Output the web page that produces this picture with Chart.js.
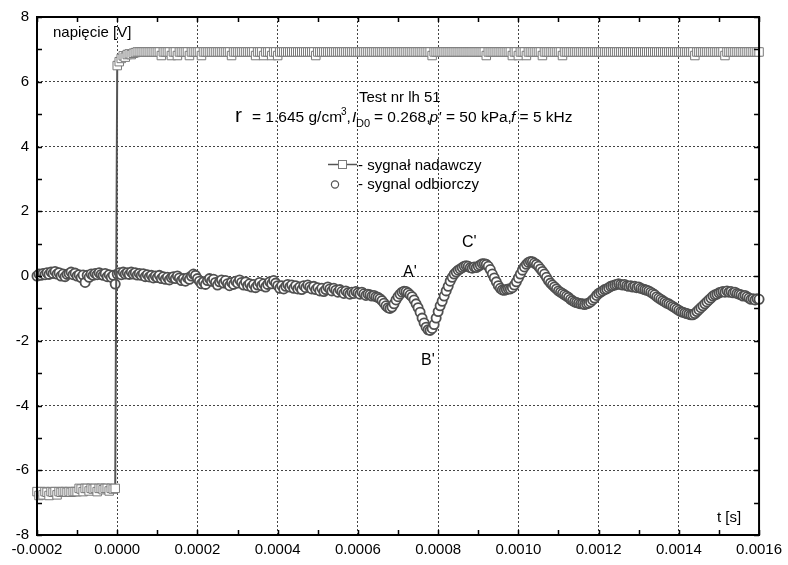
<!DOCTYPE html>
<html lang="pl">
<head>
<meta charset="UTF-8">
<title>Test nr lh 51</title>
<style>
  html, body { margin: 0; padding: 0; background: #fff; }
  #wrap { width: 788px; height: 565px; }
</style>
</head>
<body>
<div id="wrap"><canvas id="chart" width="788" height="565"></canvas></div>
<script src="https://cdn.jsdelivr.net/npm/chart.js"></script>
<script>
// time in microseconds (displayed in seconds)
const timeUs = [
  -200,-195,-190,-185,-180,-175,-170,-165,-160,-155,-150,-145,-140,-135,-130,-125,-120,-115,-110,-105,
  -100,-95,-90,-85,-80,-75,-70,-65,-60,-55,-50,-45,-40,-35,-30,-25,-20,-15,-10,-5,
  0,5,10,15,20,25,30,35,40,45,50,55,60,65,70,75,80,85,90,95,
  100,105,110,115,120,125,130,135,140,145,150,155,160,165,170,175,180,185,190,195,
  200,205,210,215,220,225,230,235,240,245,250,255,260,265,270,275,280,285,290,295,
  300,305,310,315,320,325,330,335,340,345,350,355,360,365,370,375,380,385,390,395,
  400,405,410,415,420,425,430,435,440,445,450,455,460,465,470,475,480,485,490,495,
  500,505,510,515,520,525,530,535,540,545,550,555,560,565,570,575,580,585,590,595,
  600,605,610,615,620,625,630,635,640,645,650,655,660,665,670,675,680,685,690,695,
  700,705,710,715,720,725,730,735,740,745,750,755,760,765,770,775,780,785,790,795,
  800,805,810,815,820,825,830,835,840,845,850,855,860,865,870,875,880,885,890,895,
  900,905,910,915,920,925,930,935,940,945,950,955,960,965,970,975,980,985,990,995,
  1000,1005,1010,1015,1020,1025,1030,1035,1040,1045,1050,1055,1060,1065,1070,1075,1080,1085,1090,1095,
  1100,1105,1110,1115,1120,1125,1130,1135,1140,1145,1150,1155,1160,1165,1170,1175,1180,1185,1190,1195,
  1200,1205,1210,1215,1220,1225,1230,1235,1240,1245,1250,1255,1260,1265,1270,1275,1280,1285,1290,1295,
  1300,1305,1310,1315,1320,1325,1330,1335,1340,1345,1350,1355,1360,1365,1370,1375,1380,1385,1390,1395,
  1400,1405,1410,1415,1420,1425,1430,1435,1440,1445,1450,1455,1460,1465,1470,1475,1480,1485,1490,1495,
  1500,1505,1510,1515,1520,1525,1530,1535,1540,1545,1550,1555,1560,1565,1570,1575,1580,1585,1590,1595,
  1600
];

// sygnał nadawczy [V]
const sentV = [
  -6.66,-6.78,-6.66,-6.76,-6.66,-6.68,-6.78,-6.66,-6.68,-6.66,-6.76,-6.66,-6.68,-6.66,-6.66,-6.68,-6.66,-6.68,-6.66,-6.66,
  -6.66,-6.56,-6.58,-6.66,-6.56,-6.56,-6.64,-6.56,-6.58,-6.56,-6.66,-6.56,-6.56,-6.60,-6.56,-6.56,-6.64,-6.56,-6.58,-6.56,
  6.50,6.62,6.72,6.80,6.76,6.84,6.86,6.84,6.88,6.90,6.92,6.92,6.92,6.92,6.92,6.92,6.92,6.92,6.92,6.92,
  6.92,6.92,6.81,6.92,6.92,6.92,6.92,6.81,6.92,6.92,6.81,6.92,6.92,6.92,6.92,6.92,6.81,6.92,6.92,6.92,
  6.92,6.92,6.81,6.92,6.92,6.92,6.92,6.92,6.92,6.92,6.92,6.92,6.92,6.92,6.92,6.92,6.92,6.81,6.92,6.92,
  6.92,6.92,6.92,6.92,6.92,6.92,6.92,6.92,6.92,6.81,6.92,6.92,6.92,6.81,6.92,6.92,6.92,6.81,6.92,6.92,
  6.81,6.92,6.92,6.92,6.92,6.92,6.92,6.92,6.92,6.92,6.92,6.92,6.92,6.92,6.92,6.92,6.92,6.92,6.92,6.81,
  6.92,6.92,6.92,6.92,6.92,6.92,6.92,6.92,6.92,6.92,6.92,6.92,6.92,6.92,6.92,6.92,6.92,6.92,6.92,6.92,
  6.92,6.92,6.92,6.92,6.92,6.92,6.92,6.92,6.92,6.92,6.92,6.92,6.92,6.92,6.92,6.92,6.92,6.92,6.92,6.92,
  6.92,6.92,6.92,6.92,6.92,6.92,6.92,6.92,6.92,6.92,6.92,6.92,6.92,6.92,6.92,6.92,6.92,6.81,6.92,6.92,
  6.92,6.92,6.92,6.92,6.92,6.92,6.92,6.92,6.92,6.92,6.92,6.92,6.92,6.92,6.92,6.92,6.92,6.92,6.92,6.92,
  6.92,6.92,6.92,6.92,6.81,6.92,6.92,6.92,6.92,6.92,6.92,6.92,6.92,6.92,6.92,6.92,6.92,6.81,6.92,6.92,
  6.81,6.92,6.92,6.92,6.81,6.92,6.92,6.92,6.92,6.92,6.92,6.92,6.81,6.92,6.92,6.92,6.92,6.92,6.92,6.92,
  6.92,6.92,6.81,6.92,6.92,6.92,6.92,6.92,6.92,6.92,6.92,6.92,6.92,6.92,6.92,6.92,6.92,6.92,6.92,6.92,
  6.92,6.92,6.92,6.92,6.92,6.92,6.92,6.92,6.92,6.92,6.92,6.92,6.92,6.92,6.92,6.92,6.92,6.92,6.92,6.92,
  6.92,6.92,6.92,6.92,6.92,6.92,6.92,6.92,6.92,6.92,6.92,6.92,6.92,6.92,6.92,6.92,6.92,6.92,6.92,6.92,
  6.92,6.92,6.92,6.92,6.92,6.92,6.92,6.92,6.81,6.92,6.92,6.92,6.92,6.92,6.92,6.92,6.92,6.92,6.92,6.92,
  6.92,6.92,6.92,6.81,6.92,6.92,6.92,6.92,6.92,6.92,6.92,6.92,6.92,6.92,6.92,6.92,6.92,6.92,6.92,6.92,
  6.92
];

// sygnal odbiorczy [V]
const receivedV = [
  0.00,0.06,0.02,0.08,0.04,0.10,0.05,0.12,0.08,0.14,0.06,0.10,0.00,0.06,-0.02,0.05,0.08,0.12,0.04,0.09,
  0.00,0.04,-0.05,0.03,-0.20,0.02,-0.04,0.06,0.02,0.08,0.04,0.10,0.05,0.02,0.08,-0.02,0.04,-0.04,0.02,-0.25,
  0.06,0.10,0.04,0.12,0.06,0.10,0.05,0.12,0.06,0.10,0.03,0.08,0.02,0.07,-0.02,0.04,-0.03,0.02,-0.06,0.00,
  -0.05,0.02,-0.08,-0.02,-0.10,-0.04,-0.12,-0.05,-0.02,-0.08,0.00,-0.06,-0.14,-0.08,-0.16,-0.06,-0.10,0.00,0.06,0.02,
  -0.08,-0.16,-0.24,-0.18,-0.26,-0.14,-0.08,-0.16,-0.10,-0.20,-0.28,-0.18,-0.12,-0.22,-0.14,-0.24,-0.30,-0.20,-0.26,-0.16,
  -0.22,-0.12,-0.20,-0.28,-0.18,-0.30,-0.24,-0.34,-0.26,-0.36,-0.28,-0.20,-0.30,-0.24,-0.34,-0.26,-0.18,-0.24,-0.14,-0.22,
  -0.30,-0.38,-0.30,-0.40,-0.32,-0.26,-0.34,-0.28,-0.38,-0.30,-0.40,-0.34,-0.42,-0.30,-0.36,-0.28,-0.34,-0.40,-0.32,-0.42,
  -0.36,-0.46,-0.38,-0.48,-0.42,-0.34,-0.40,-0.46,-0.38,-0.44,-0.50,-0.42,-0.48,-0.54,-0.46,-0.52,-0.56,-0.50,-0.54,-0.48,
  -0.52,-0.56,-0.50,-0.55,-0.60,-0.56,-0.58,-0.62,-0.60,-0.64,-0.66,-0.70,-0.76,-0.84,-0.92,-0.98,-1.00,-0.96,-0.86,-0.74,
  -0.64,-0.56,-0.50,-0.47,-0.48,-0.52,-0.58,-0.64,-0.74,-0.86,-0.98,-1.12,-1.30,-1.45,-1.58,-1.66,-1.68,-1.62,-1.50,-1.30,
  -1.10,-0.92,-0.78,-0.62,-0.46,-0.32,-0.16,-0.04,0.06,0.12,0.18,0.22,0.26,0.30,0.32,0.30,0.26,0.24,0.28,0.26,
  0.30,0.34,0.38,0.38,0.36,0.30,0.20,0.06,-0.06,-0.18,-0.30,-0.38,-0.43,-0.44,-0.42,-0.40,-0.40,-0.36,-0.28,-0.18,
  -0.06,0.06,0.18,0.28,0.36,0.42,0.45,0.44,0.40,0.36,0.30,0.22,0.14,0.06,-0.04,-0.14,-0.22,-0.28,-0.34,-0.40,
  -0.46,-0.50,-0.54,-0.58,-0.62,-0.66,-0.72,-0.76,-0.80,-0.82,-0.84,-0.86,-0.86,-0.88,-0.86,-0.84,-0.80,-0.74,-0.68,-0.60,
  -0.54,-0.50,-0.46,-0.42,-0.40,-0.36,-0.32,-0.30,-0.28,-0.26,-0.24,-0.26,-0.28,-0.26,-0.30,-0.32,-0.30,-0.34,-0.32,-0.36,
  -0.34,-0.38,-0.40,-0.42,-0.44,-0.46,-0.50,-0.54,-0.58,-0.64,-0.68,-0.72,-0.76,-0.80,-0.84,-0.86,-0.90,-0.94,-0.98,-1.02,
  -1.06,-1.10,-1.12,-1.14,-1.16,-1.18,-1.20,-1.20,-1.16,-1.10,-1.04,-0.98,-0.92,-0.86,-0.80,-0.74,-0.68,-0.62,-0.58,-0.56,
  -0.52,-0.50,-0.48,-0.50,-0.46,-0.50,-0.48,-0.52,-0.50,-0.54,-0.56,-0.58,-0.62,-0.60,-0.64,-0.68,-0.72,-0.70,-0.74,-0.70,
  -0.72
];

const xTickValues = [-200, 0, 200, 400, 600, 800, 1000, 1200, 1400, 1600];
const xTickLabels = ['-0.0002', '0.0000', '0.0002', '0.0004', '0.0006', '0.0008', '0.0010', '0.0012', '0.0014', '0.0016'];
const yTickValues = [-8, -6, -4, -2, 0, 2, 4, 6, 8];
const yTickLabels = ['-8', '-6', '-4', '-2', '0', '2', '4', '6', '8'];

const FONT = '"Liberation Sans", Arial, sans-serif';

// frame, inward ticks and all the captions
const framePlugin = {
  id: 'frame',
  afterDraw(chart) {
    const { ctx, chartArea: a, scales: { x, y } } = chart;
    ctx.save();
    ctx.strokeStyle = '#000';
    ctx.lineWidth = 2;
    ctx.strokeRect(a.left, a.top, a.right - a.left, a.bottom - a.top);

    ctx.lineWidth = 1.5;
    ctx.beginPath();
    for (let v = x.min; v <= x.max; v += 100) {
      const px = Math.round(x.getPixelForValue(v)) + 0.5;
      ctx.moveTo(px, a.bottom); ctx.lineTo(px, a.bottom - 5);
      ctx.moveTo(px, a.top); ctx.lineTo(px, a.top + 5);
    }
    for (let v = y.min; v <= y.max; v += 1) {
      const py = Math.round(y.getPixelForValue(v)) + 0.5;
      ctx.moveTo(a.left, py); ctx.lineTo(a.left + 5, py);
      ctx.moveTo(a.right, py); ctx.lineTo(a.right - 5, py);
    }
    ctx.stroke();

    ctx.fillStyle = '#000';
    ctx.textBaseline = 'alphabetic';
    ctx.textAlign = 'left';
    // draws a piece of text, returns where it ends
    const txt = (s, px, py, size, style) => {
      ctx.font = (style || '') + ' ' + size + 'px ' + FONT;
      ctx.fillText(s, px, py);
      return px + ctx.measureText(s).width;
    };

    txt('napięcie [V]', 53, 37, 15);
    txt('t [s]', 717, 522, 15);

    txt('Test nr lh 51', 359, 102, 15);
    txt('r', 235, 122, 21);
    let e = txt('= 1.645 g/cm', 252, 122, 15.5);
    e = txt('3', e - 1, 115, 10);
    txt(',', e, 122, 15.5);
    txt('I', 352, 122, 15.5, 'italic');
    txt('D0', 356, 127, 11);
    e = txt('= 0.268,', 374, 122, 15.5);
    txt("p'", e - 1, 122, 15.5, 'italic');
    e = txt('= 50 kPa,', 446, 122, 15.5);
    e = txt('f', e - 1, 122, 15.5, 'italic');
    txt(' = 5 kHz', e, 122, 15.5);

    // legend
    ctx.strokeStyle = '#555';
    ctx.lineWidth = 1.5;
    ctx.beginPath();
    ctx.moveTo(328, 164.5); ctx.lineTo(357, 164.5);
    ctx.stroke();
    ctx.fillStyle = '#fff';
    ctx.strokeStyle = '#7a7a7a';
    ctx.lineWidth = 1;
    ctx.fillRect(338, 160.5, 8, 8);
    ctx.strokeRect(338.5, 160.5, 8, 8);
    ctx.strokeStyle = '#555';
    ctx.lineWidth = 1.2;
    ctx.beginPath();
    ctx.arc(335, 184.5, 3.6, 0, Math.PI * 2);
    ctx.fill(); ctx.stroke();
    ctx.fillStyle = '#000';
    txt('- sygnał nadawczy', 358, 170, 15);
    txt('- sygnal odbiorczy', 358, 189, 15);

    // point labels
    txt("A'", 403, 277, 16);
    txt("B'", 421, 365, 16);
    txt("C'", 462, 247, 16);
    ctx.restore();
  }
};

new Chart(document.getElementById('chart'), {
  type: 'scatter',
  data: {
    datasets: [
      {
        label: 'sygnał nadawczy',
        data: timeUs.map((t, i) => ({ x: t, y: sentV[i] })),
        showLine: true,
        borderColor: '#555',
        borderWidth: 2,
        pointStyle: 'rect',
        pointRadius: 6,
        pointBorderColor: '#7a7a7a',
        pointBackgroundColor: '#fff',
        pointBorderWidth: 1,
        order: 0,
        clip: false
      },
      {
        label: 'sygnal odbiorczy',
        data: timeUs.map((t, i) => ({ x: t, y: receivedV[i] })),
        showLine: false,
        pointStyle: 'circle',
        pointRadius: 4.6,
        pointBorderColor: '#505050',
        pointBackgroundColor: '#fff',
        pointBorderWidth: 1.8,
        order: 1,
        clip: false
      }
    ]
  },
  options: {
    responsive: false,
    animation: false,
    events: [],
    layout: { padding: { top: 10, right: 28, left: 0, bottom: 0 } },
    plugins: { legend: { display: false }, tooltip: { enabled: false } },
    scales: {
      x: {
        type: 'linear',
        min: -200,
        max: 1600,
        afterBuildTicks: s => { s.ticks = xTickValues.map(v => ({ value: v })); },
        afterFit: s => { s.height = 30; },
        ticks: {
          callback: (v, i) => xTickLabels[i],
          font: { family: FONT, size: 15 },
          color: '#000',
          padding: 6,
          maxRotation: 0,
          autoSkip: false
        },
        grid: { color: '#444', lineWidth: 1, drawTicks: false },
        border: { display: false, dash: [2, 2] }
      },
      y: {
        type: 'linear',
        min: -8,
        max: 8,
        afterBuildTicks: s => { s.ticks = yTickValues.map(v => ({ value: v })); },
        afterFit: s => { s.width = 37; },
        ticks: {
          callback: (v, i) => yTickLabels[i],
          font: { family: FONT, size: 15 },
          color: '#000',
          padding: 8
        },
        grid: { color: '#444', lineWidth: 1, drawTicks: false },
        border: { display: false, dash: [2, 2] }
      }
    }
  },
  plugins: [framePlugin]
});
</script>
</body>
</html>
